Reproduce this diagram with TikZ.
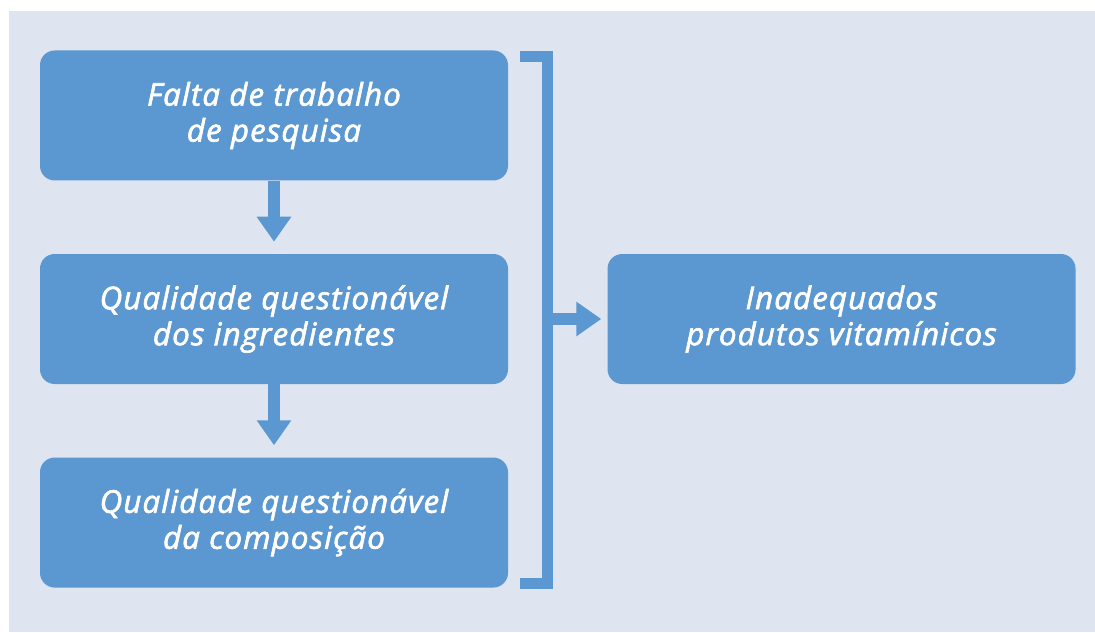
\documentclass[tikz,border=0pt]{standalone}
\usepackage{fontspec}
\setmainfont{Open Sans}[ItalicFeatures={FakeBold=2,LetterSpace=3.5}]
\usetikzlibrary{positioning,arrows.meta}
\definecolor{boxblue}{RGB}{91,151,208}
\definecolor{bgblue}{RGB}{222,229,240}

\begin{document}
\begin{tikzpicture}[
    box/.style={fill=boxblue, rounded corners=11pt, minimum width=351pt, minimum height=97.5pt,
        align=center, text=white, font=\fontsize{23.5}{27}\selectfont\itshape},
    flow/.style={draw=boxblue, line width=9pt, -{Triangle[width=24.75pt,length=18.75pt]}},
    bracket/.style={draw=boxblue, line width=8.25pt, miter limit=10},
    node distance=54.75pt and 74.25pt]
    \useasboundingbox (0,0) rectangle (821.25pt,-474pt);
    \fill[bgblue] (6.75pt,-8.25pt) rectangle (821.25pt,-474pt);

    \node[box] (falta) at (205.5pt,-86.6pt) {Falta de trabalho\\de pesquisa};
    \node[box, below=of falta] (ingr) {Qualidade questionável\\dos ingredientes};
    \node[box, below=of ingr] (comp) {Qualidade questionável\\da composição};
    \node[box, right=of ingr] (prod) {Inadequados\\produtos vitamínicos};

    \coordinate (btop) at ([xshift=29.6pt,yshift=-4.9pt]falta.north east);
    \coordinate (bbot) at ([xshift=29.6pt,yshift=3.4pt]comp.south east);

    \draw[flow] (falta) -- ([yshift=9pt]ingr.north);
    \draw[flow] (ingr) -- ([yshift=9pt]comp.north);
    \draw[bracket] ([xshift=-20.6pt]btop) -- (btop) -- (bbot) -- ([xshift=-20.6pt]bbot);
    \draw[flow] (btop |- prod.west) -- ([xshift=-4.5pt]prod.west);
\end{tikzpicture}
\end{document}
